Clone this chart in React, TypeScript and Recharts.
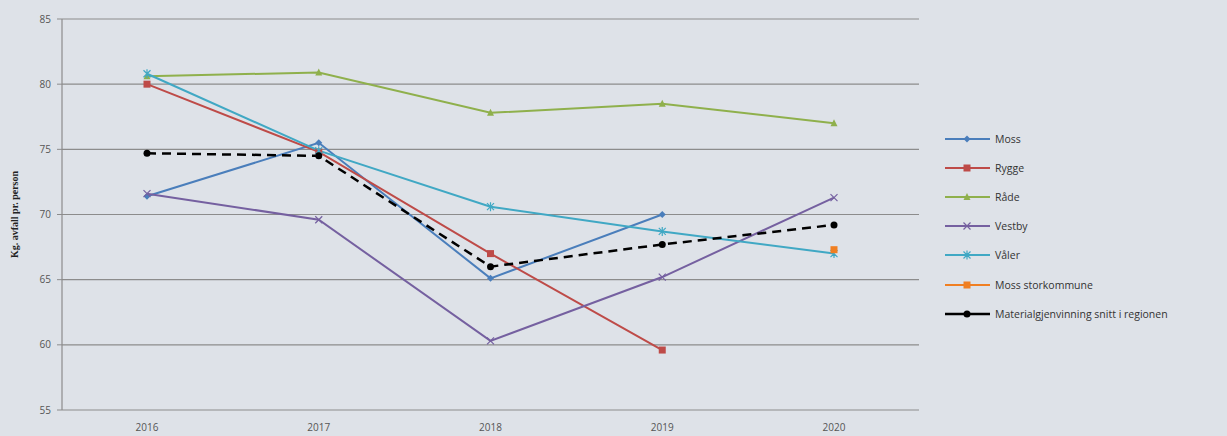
import React from "react";
import { LineChart, Line, XAxis, YAxis, CartesianGrid, Legend } from "recharts";

const years = ["2016", "2017", "2018", "2019", "2020"];
const moss = [71.4, 75.5, 65.1, 70.0, null];
const rygge = [80.0, 74.8, 67.0, 59.6, null];
const rade = [80.6, 80.9, 77.8, 78.5, 77.0];
const vestby = [71.6, 69.6, 60.3, 65.2, 71.3];
const valer = [80.8, 74.9, 70.6, 68.7, 67.0];
const mossStor = [null, null, null, null, 67.3];
const snitt = [74.7, 74.5, 66.0, 67.7, 69.2];
const yTicks = [55, 60, 65, 70, 75, 80, 85];
const gridTicks = [0, 1, 2, 3, 4, 5];

const data = years.map((y, i) => ({
  year: y,
  moss: moss[i],
  rygge: rygge[i],
  rade: rade[i],
  vestby: vestby[i],
  valer: valer[i],
  mossStor: mossStor[i],
  snitt: snitt[i],
}));

type Shape = "diamond" | "square" | "triangle" | "x" | "star" | "circle";

const series: { key: string; name: string; color: string; shape: Shape; dash?: string; width: number }[] = [
  { key: "moss", name: "Moss", color: "#4a7ebb", shape: "diamond", width: 2 },
  { key: "rygge", name: "Rygge", color: "#be4b48", shape: "square", width: 2 },
  { key: "rade", name: "Råde", color: "#8fb04c", shape: "triangle", width: 2 },
  { key: "vestby", name: "Vestby", color: "#7560a0", shape: "x", width: 2 },
  { key: "valer", name: "Våler", color: "#40a8c4", shape: "star", width: 2 },
  { key: "mossStor", name: "Moss storkommune", color: "#f07f22", shape: "square", width: 2 },
  { key: "snitt", name: "Materialgjenvinning snitt i regionen", color: "#000000", shape: "circle", dash: "9 6", width: 2.5 },
];

function Marker({ cx, cy, shape, color }: { cx: number; cy: number; shape: Shape; color: string }) {
  const s = 3.5;
  switch (shape) {
    case "diamond":
      return <path d={`M${cx},${cy - s} L${cx + s},${cy} L${cx},${cy + s} L${cx - s},${cy} Z`} fill={color} />;
    case "square":
      return <rect x={cx - s} y={cy - s} width={s * 2} height={s * 2} fill={color} />;
    case "triangle":
      return <path d={`M${cx},${cy - s - 0.5} L${cx + s},${cy + s - 0.5} L${cx - s},${cy + s - 0.5} Z`} fill={color} />;
    case "x":
      return (
        <path d={`M${cx - s},${cy - s} L${cx + s},${cy + s} M${cx - s},${cy + s} L${cx + s},${cy - s}`} stroke={color} strokeWidth={1.2} />
      );
    case "star":
      return (
        <path
          d={`M${cx - s},${cy - s} L${cx + s},${cy + s} M${cx - s},${cy + s} L${cx + s},${cy - s} M${cx},${cy - s - 1} L${cx},${cy + s + 1}`}
          stroke={color}
          strokeWidth={1.2}
        />
      );
    default:
      return <circle cx={cx} cy={cy} r={s} fill={color} />;
  }
}

const makeDot = (shape: Shape, color: string) => (props: any) => {
  const { cx, cy, value, index } = props;
  if (value == null || cx == null || cy == null) return <g key={`d-${index}`} />;
  return (
    <g key={`d-${index}`}>
      <Marker cx={cx} cy={cy} shape={shape} color={color} />
    </g>
  );
};

function LegendContent() {
  return (
    <div style={{ fontFamily: "'Open Sans', sans-serif", fontSize: 10.5, color: "#333" }}>
      {series.map((s) => (
        <div key={s.key} style={{ display: "flex", alignItems: "center", height: 29.2 }}>
          <svg width={48} height={10}>
            <line x1={0} y1={5} x2={45} y2={5} stroke={s.color} strokeWidth={s.width} />
            <Marker cx={22} cy={5} shape={s.shape} color={s.color} />
          </svg>
          <span style={{ marginLeft: 2, whiteSpace: "nowrap" }}>{s.name}</span>
        </div>
      ))}
    </div>
  );
}

export default function App() {
  return (
    <div style={{ position: "absolute", left: 0, top: 0, width: 1227, height: 436, background: "#dee2e8" }}>
      <LineChart width={1227} height={436} data={data} margin={{ top: 19, right: 28, bottom: 0, left: 0 }}>
        <CartesianGrid vertical={false} stroke="#8c8c8c" strokeWidth={1.2} />
        <XAxis
          xAxisId="grid"
          type="number"
          domain={[0, 5]}
          ticks={gridTicks}
          height={0}
          tick={false}
          tickSize={5}
          axisLine={{ stroke: "#8c8c8c", strokeWidth: 1.2 }}
          tickLine={{ stroke: "#8c8c8c" }}
        />
        <XAxis
          dataKey="year"
          height={26}
          padding={{ left: 85, right: 85 }}
          axisLine={false}
          tickLine={false}
          tickMargin={8}
          tick={{ fontSize: 10, fill: "#555", fontFamily: "'Open Sans', sans-serif" }}
        />
        <YAxis
          domain={[55, 85]}
          ticks={yTicks}
          width={62}
          tickSize={5}
          tickMargin={6}
          axisLine={{ stroke: "#8c8c8c", strokeWidth: 1.2 }}
          tickLine={{ stroke: "#8c8c8c" }}
          tick={{ fontSize: 10, fill: "#555", fontFamily: "'Open Sans', sans-serif" }}
          label={{
            value: "Kg. avfall pr. person",
            angle: -90,
            position: "insideLeft",
            offset: 14,
            style: { textAnchor: "middle", fontSize: 10, fontWeight: "bold", fontFamily: "'Liberation Serif', serif", fill: "#222" },
          }}
        />
        <Legend
          layout="vertical"
          align="right"
          verticalAlign="top"
          content={() => <LegendContent />}
          wrapperStyle={{ left: 945, top: 124, width: 280 }}
        />
        {series.map((s) => (
          <Line
            key={s.key}
            dataKey={s.key}
            name={s.name}
            stroke={s.color}
            strokeWidth={s.width}
            strokeDasharray={s.dash}
            dot={makeDot(s.shape, s.color)}
            activeDot={false}
            isAnimationActive={false}
          />
        ))}
      </LineChart>
    </div>
  );
}
